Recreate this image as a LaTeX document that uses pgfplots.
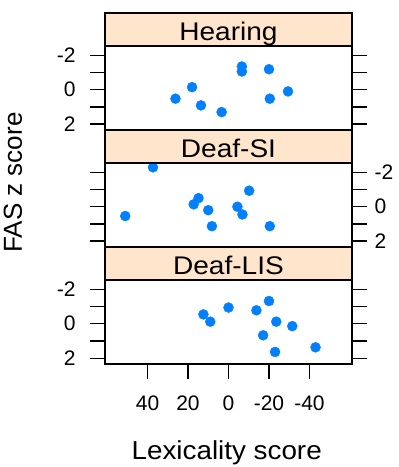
\documentclass[border=0pt]{standalone}
\usepackage{pgfplots}
\pgfplotsset{compat=1.18}
\usepackage{fontspec}
\setmainfont{Liberation Sans}
\definecolor{stripc}{HTML}{FFE5CC}
\definecolor{ptc}{HTML}{0080FF}
\pgfplotsset{
  panel/.style={
    at={#1}, anchor=south west,
    scale only axis, width=247pt, height=84pt,
    xmin=-61, xmax=61, ymin=-2.54, ymax=2.34,
    x dir=reverse, y dir=reverse,
    axis line style={line width=1.3pt},
    every tick/.style={black, line width=1.3pt},
    tick align=outside, major tick length=15pt,
    ytick={-2,-1,0,1,2}, yticklabels={-2,,0,,2},
    ytick pos=both,
    xtick=\empty,
    tick label style={font=\fontsize{21}{23}\selectfont},
    clip marker paths=true,
  },
  pts/.style={only marks, mark=*, mark size=5pt, mark options={draw=ptc, fill=ptc}},
}
\begin{document}
\begin{tikzpicture}
% Hearing
\begin{axis}[panel={(0pt,234pt)}, name=p1, yticklabel pos=left, yticklabel style={xshift=-11pt}]
\addplot[pts] coordinates {(26.2,0.52) (18.0,-0.15) (13.6,0.91) (3.4,1.30) (-6.6,-1.35) (-6.6,-1.06) (-20.0,-1.19) (-20.4,0.52) (-29.4,0.10)};
\end{axis}
% Deaf-SI
\begin{axis}[panel={(0pt,117pt)}, name=p2, yticklabel pos=right, yticklabel style={xshift=4pt}]
\addplot[pts] coordinates {(37.3,-2.29) (51.0,0.54) (17.2,-0.14) (14.8,-0.50) (10.0,0.20) (8.2,1.13) (-4.4,0.0) (-6.9,0.45) (-10.2,-0.93) (-20.4,1.13)};
\end{axis}
% Deaf-LIS
\begin{axis}[panel={(0pt,0pt)}, name=p3, yticklabel pos=left, yticklabel style={xshift=-11pt},
  xtick={-40,-20,0,20,40}, xticklabels={-40,-20,0,20,40}, xtick pos=bottom,
  xticklabel style={yshift=-13pt}]
\addplot[pts] coordinates {(12.4,-0.54) (9.0,-0.12) (0,-0.94) (-13.8,-0.78) (-20.0,-1.32) (-23.6,-0.12) (-17.1,0.67) (-31.5,0.14) (-23.0,1.64) (-43.0,1.37)};
\end{axis}
% strips
\foreach \p/\t in {p1/Hearing, p2/Deaf-SI, p3/Deaf-LIS}{
  \draw[line width=1.3pt, fill=stripc] (\p.north west) rectangle ([yshift=33pt]\p.north east);
  \node[anchor=base, inner sep=0pt, xscale=1.1, font=\fontsize{25.5}{28}\selectfont] at ([yshift=5pt]\p.north) {\t};
}
\node[rotate=90, font=\fontsize{26}{28}\selectfont] at (-92pt,181.5pt) {FAS z score};
\node[anchor=base, inner sep=0pt, xscale=1.07, font=\fontsize{26}{28}\selectfont] at (121.7pt,-95pt) {Lexicality score};
\pgfresetboundingbox
\useasboundingbox (-105pt,-103pt) rectangle (294pt,364pt);
\end{tikzpicture}
\end{document}
